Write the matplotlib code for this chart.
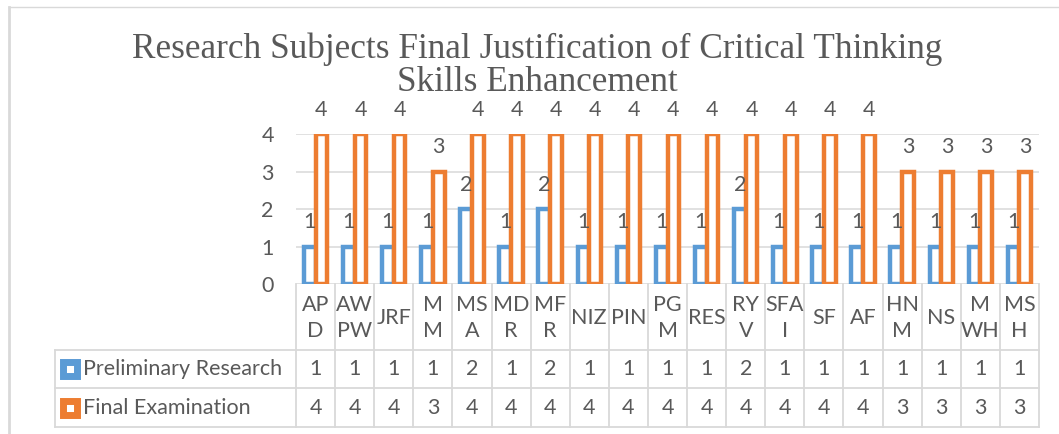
import matplotlib
matplotlib.use("Agg")
import matplotlib.pyplot as plt
from matplotlib.patches import Rectangle
from matplotlib.lines import Line2D
from matplotlib.transforms import blended_transform_factory
import numpy as np

# ---------------- data ----------------
categories = ["AP\nD", "AW\nPW", "JRF", "M\nM", "MS\nA", "MD\nR", "MF\nR", "NIZ", "PIN",
              "PG\nM", "RES", "RY\nV", "SFA\nI", "SF", "AF", "HN\nM", "NS", "M\nWH", "MS\nH"]
preliminary = [1, 1, 1, 1, 2, 1, 2, 1, 1, 1, 1, 2, 1, 1, 1, 1, 1, 1, 1]
final = [4, 4, 4, 3, 4, 4, 4, 4, 4, 4, 4, 4, 4, 4, 4, 3, 3, 3, 3]
series_names = ["Preliminary Research", "Final Examination"]
title_lines = ["Research Subjects Final Justification of Critical Thinking",
               "Skills Enhancement"]
yticks = [0, 1, 2, 3, 4]

# ---------------- style ----------------
BLUE = "#5B9BD5"
ORANGE = "#ED7D31"
GRID = "#D9D9D9"
TXT = "#595959"
FONT = "Lato"
FS = 15.5

W, H = 1059, 434
fig = plt.figure(figsize=(W / 100, H / 100), dpi=100)

# plot area in pixel coordinates (from top-left)
L, R, T, B = 296, 1039, 134, 284
ax = fig.add_axes([L / W, 1 - B / H, (R - L) / W, (B - T) / H])

n = len(categories)
x = np.arange(n)
ax.set_xlim(-0.5, n - 0.5)
ax.set_ylim(0, 4)

slot_px = (R - L) / n


def px_to_x(px):
    return -0.5 + (px - L) / slot_px


def py_to_axy(py):
    return (B - py) / (B - T)


bw = 0.3
lw_bar = 3.2
ax.bar(x - bw / 2, preliminary, width=bw, facecolor="white", edgecolor=BLUE,
       linewidth=lw_bar, zorder=3)
ax.bar(x + bw / 2, final, width=bw, facecolor="white", edgecolor=ORANGE,
       linewidth=lw_bar, zorder=4)

for xi, v in zip(x, preliminary):
    ax.annotate(str(v), (xi - bw / 2, v), xytext=(0, 17.3), textcoords="offset points",
                ha="center", va="center", fontsize=FS, color=TXT, family=FONT,
                zorder=6, annotation_clip=False)
for xi, v in zip(x, final):
    ax.annotate(str(v), (xi + bw / 2, v), xytext=(0, 17.3), textcoords="offset points",
                ha="center", va="center", fontsize=FS, color=TXT, family=FONT,
                zorder=6, annotation_clip=False)

# grid & axes
ax.set_yticks(yticks)
ax.set_yticklabels([str(t) for t in yticks], fontsize=FS, color=TXT, family=FONT)
ax.tick_params(axis="y", length=0, pad=16)
ax.set_xticks([])
for s in ax.spines.values():
    s.set_visible(False)
for t in yticks:
    ax.axhline(t, color=GRID, lw=1.1, zorder=1)
ax.set_facecolor("none")

# ---------------- data table ----------------
tr = blended_transform_factory(ax.transData, ax.transAxes)
row_edges = [350, 388, 427]
x_left = px_to_x(55)
lkw = dict(color=GRID, lw=1.3, transform=tr, clip_on=False, zorder=2)
for py in row_edges:
    ax.add_line(Line2D([x_left, n - 0.5], [py_to_axy(py)] * 2, **lkw))
ax.add_line(Line2D([x_left, x_left], [py_to_axy(350), py_to_axy(427)], **lkw))
for k in range(n + 1):
    ax.add_line(Line2D([k - 0.5, k - 0.5], [py_to_axy(B), py_to_axy(427)], **lkw))

cat_y = py_to_axy((B + 350) / 2 + 1)
for xi, c in zip(x, categories):
    ax.text(xi, cat_y, c, transform=tr, ha="center", va="center", fontsize=FS,
            color=TXT, family=FONT, linespacing=1.38, clip_on=False)

row_centers = [(350 + 388) / 2, (388 + 427) / 2]
for vals, rc, name, col in zip([preliminary, final], row_centers, series_names, [BLUE, ORANGE]):
    yy = py_to_axy(rc)
    for xi, v in zip(x, vals):
        ax.text(xi, yy, str(v), transform=tr, ha="center", va="center", fontsize=FS,
                color=TXT, family=FONT, clip_on=False)
    # legend key
    kx0 = px_to_x(62.5)
    kx1 = px_to_x(76.5)
    ax.add_patch(Rectangle((kx0, yy - 7 / 150), kx1 - kx0, 14 / 150, transform=tr,
                           facecolor="white", edgecolor=col, lw=5.0, clip_on=False,
                           zorder=3))
    ax.text(px_to_x(83), yy, name, transform=tr, ha="left", va="center", fontsize=FS,
            color=TXT, family=FONT, clip_on=False)

# ---------------- title ----------------
fig.text(537 / W, 1 - 58 / H, title_lines[0], ha="center", va="baseline",
         fontsize=25.4, color=TXT, family="Liberation Serif")
fig.text(537 / W, 1 - 91 / H, title_lines[1], ha="center", va="baseline",
         fontsize=25.4, color=TXT, family="Liberation Serif")

# ---------------- chart border ----------------
fig.add_artist(Line2D([9 / W, 1.0], [1 - 7 / H] * 2, transform=fig.transFigure,
                      color=GRID, lw=1.0))
fig.add_artist(Line2D([9 / W] * 2, [1 - 7 / H, 0], transform=fig.transFigure,
                      color=GRID, lw=2.0))

fig.savefig("out.png", dpi=100, facecolor="white")
